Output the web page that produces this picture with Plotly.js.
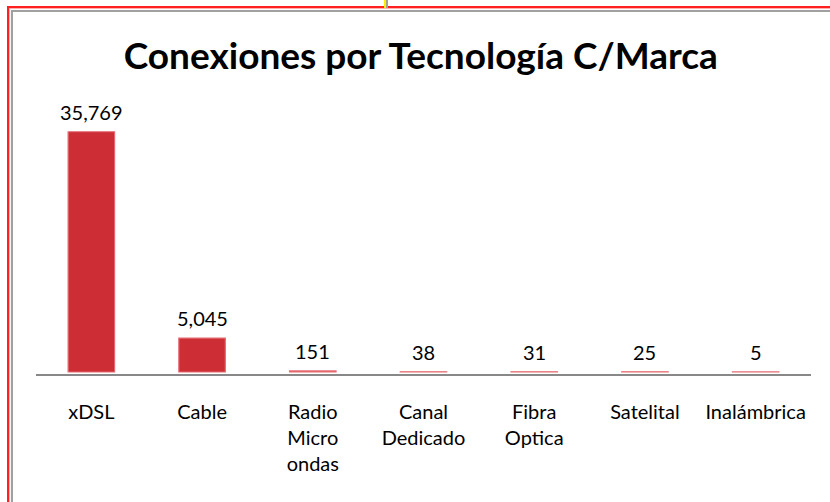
<!DOCTYPE html>
<html>
<head>
<meta charset="utf-8">
<script src="https://cdn.plot.ly/plotly-3.0.1.min.js"></script>
<style>
  html, body { margin: 0; padding: 0; background: #ffffff; }
  #wrap { position: relative; width: 830px; height: 502px; overflow: hidden; }
  #chart { position: absolute; left: 0; top: 0; width: 830px; height: 502px; }
  .b { position: absolute; pointer-events: none; }
</style>
</head>
<body>
<div id="wrap">
  <div id="chart"></div>
  <div class="b" style="left:7px; top:6px; width:823px; height:2px; background:#ff2020;"></div>
  <div class="b" style="left:7px; top:8px; width:823px; height:1px; background:#ffb0b0;"></div>
  <div class="b" style="left:7px; top:6px; width:2px; height:496px; background:#ff2020;"></div>
  <div class="b" style="left:9px; top:8px; width:1px; height:494px; background:#ffb0b0;"></div>
  <div class="b" style="left:11px; top:10px; width:819px; height:2px; background:#a0a0a0;"></div>
  <div class="b" style="left:11px; top:10px; width:2px; height:492px; background:#a0a0a0;"></div>
  <div class="b" style="left:384px; top:0px; width:2px; height:8px; background:#ffee00;"></div>
  <div class="b" style="left:386px; top:0px; width:2px; height:8px; background:#a0a0a0;"></div>
</div>
<script>
const categories = ["xDSL", "Cable", "Radio<br>Micro<br>ondas", "Canal<br>Dedicado", "Fibra<br>Optica", "Satelital", "Inalámbrica"];
const values = [35769, 5045, 151, 38, 31, 25, 5];

const FONT = "Lato, Calibri, 'Open Sans', sans-serif";

const trace = {
  type: "bar",
  x: categories,
  y: values,
  marker: {
    color: "#cd2d35",
    line: { color: "#e46a70", width: 1.2 }
  },
  hoverinfo: "x+y"
};

const annotations = categories.map((c, i) => ({
  x: c,
  y: values[i],
  xref: "x",
  yref: "y",
  text: values[i].toLocaleString("en-US"),
  showarrow: false,
  yanchor: "bottom",
  yshift: 6,
  font: { family: FONT, size: 20, color: "#000000" }
}));

const layout = {
  width: 830,
  height: 502,
  paper_bgcolor: "#ffffff",
  plot_bgcolor: "#ffffff",
  margin: { l: 36, r: 19, t: 100, b: 128 },
  bargap: 0.58,
  title: {
    text: "<b>Conexiones por Tecnología C/Marca</b>",
    font: { family: FONT, size: 37, color: "#000000" },
    x: 0.507,
    xanchor: "center",
    y: 1 - 56 / 502,
    yanchor: "middle"
  },
  xaxis: {
    type: "category",
    showline: true,
    linecolor: "#888888",
    linewidth: 2,
    ticks: "",
    showgrid: false,
    tickfont: { family: FONT, size: 20, color: "#000000" },
    ticklabelstandoff: 19
  },
  yaxis: {
    range: [-300, 40500],
    visible: false,
    showgrid: false,
    zeroline: false
  },
  annotations: annotations,
  showlegend: false
};

Plotly.newPlot("chart", [trace], layout, { displayModeBar: false, staticPlot: true });
</script>
</body>
</html>
